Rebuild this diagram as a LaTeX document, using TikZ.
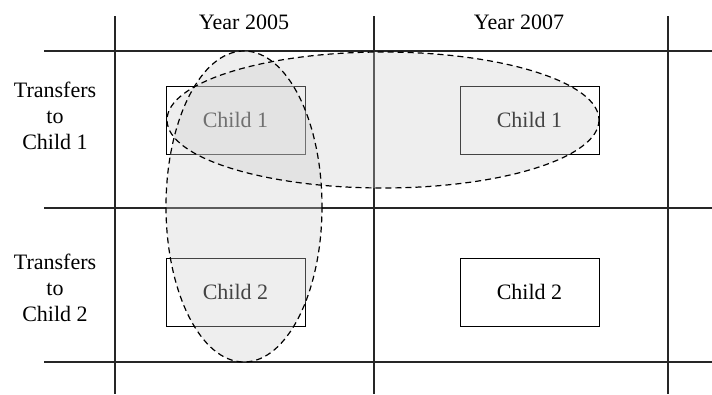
\documentclass[tikz,border=0pt]{standalone}
\usepackage{fontspec}
\setmainfont{Liberation Serif}
\begin{document}
\begin{tikzpicture}[x=1pt,y=-1pt,
  grid/.style={line width=1.1pt,black!85},
  childbox/.style={draw,line width=1pt,minimum width=139pt,minimum height=68pt,inner sep=0pt,font=\fontsize{22}{24}\selectfont},
  lbl/.style={font=\fontsize{22}{26}\selectfont,align=center,inner sep=0pt},
  ellfill/.style={fill=black!20,fill opacity=0.33},
  elldash/.style={draw=black,line width=1.2pt,dash pattern=on 6pt off 4pt}]
\useasboundingbox (0,0) rectangle (712,394);
% grid
\coordinate (h1l) at (44,51); \coordinate (h1r) at (712,51);
\coordinate (h2l) at (44,208); \coordinate (h2r) at (712,208);
\coordinate (h3l) at (44,362); \coordinate (h3r) at (712,362);
\coordinate (v1t) at (115,16); \coordinate (v1b) at (115,394);
\coordinate (v2t) at (374,16); \coordinate (v2b) at (374,394);
\coordinate (v3t) at (668,16); \coordinate (v3b) at (668,394);
\draw[grid] (h1l) -- (h1r) (h2l) -- (h2r) (h3l) -- (h3r);
\draw[grid] (v1t) -- (v1b) (v2t) -- (v2b) (v3t) -- (v3b);
% headers
\node[lbl] (y05) at (244,22) {Year 2005};
\node[lbl] (y07) at (519,22) {Year 2007};
\node[lbl] (t1) at (55,116) {Transfers\\to\\Child 1};
\node[lbl] (t2) at (55,288) {Transfers\\to\\Child 2};
% boxes
\node[childbox] (c105) at (235.5,120) {Child 1};
\node[childbox] (c107) at (529.5,120) {Child 1};
\node[childbox] (c205) at (235.5,292) {Child 2};
\node[childbox] (c207) at (529.5,292) {Child 2};
% ellipses
\path[ellfill] (383,120) ellipse [x radius=216, y radius=68];
\path[ellfill] (244,206.5) ellipse [x radius=78, y radius=155.5];
\path[elldash] (383,120) ellipse [x radius=216, y radius=68];
\path[elldash] (244,206.5) ellipse [x radius=78, y radius=155.5];
\end{tikzpicture}
\end{document}
